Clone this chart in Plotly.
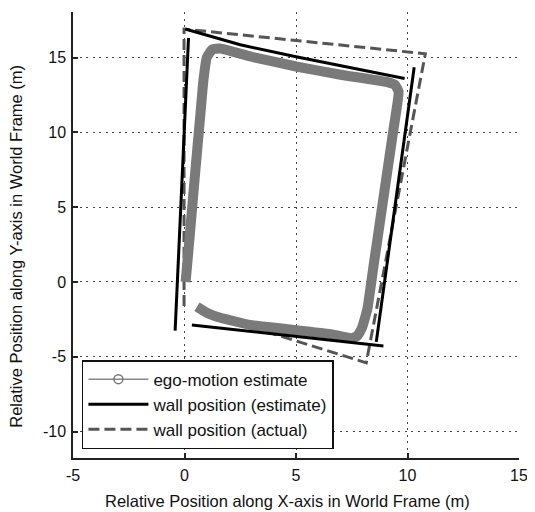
import plotly.graph_objects as go

# ego-motion estimate (trajectory)
ego_x = [0.05, 0.23, 0.46, 0.70, 0.85, 1.00, 1.25, 1.60, 3.0, 5.0, 7.0, 9.10, 9.45, 9.60, 9.35, 8.86, 8.47, 8.20, 7.95, 7.75, 7.50, 6.50, 5.00, 3.50, 2.94, 1.45, 1.00, 0.56]
ego_y = [0.0, 3.0, 7.0, 11.0, 13.5, 15.0, 15.55, 15.6, 15.05, 14.4, 13.85, 13.35, 13.15, 12.7, 10.0, 5.0, 1.0, -1.8, -3.1, -3.6, -3.75, -3.47, -3.22, -2.97, -2.87, -2.32, -2.05, -1.65]

# wall position (estimate): separate segments split by None
wall_est_x = [-0.42, 0.18, None, 0.03, 2.5, 5.0, 9.87, None, 10.30, 8.60, None, 0.33, 8.92]
wall_est_y = [-3.25, 16.30, None, 16.90, 15.85, 15.05, 13.60, None, 14.35, -4.00, None, -2.87, -4.27]

# wall position (actual)
wall_act_x = [-0.02, -0.02, 10.80, 8.15, 2.0]
wall_act_y = [-1.6, 16.9, 15.25, -5.40, -2.55]

x_ticks = [-5, 0, 5, 10, 15]
y_ticks = [-10, -5, 0, 5, 10, 15]

FONT = "Arial, 'Liberation Sans', sans-serif"

fig = go.Figure()
fig.add_trace(go.Scatter(x=wall_act_x, y=wall_act_y, mode="lines",
                         line=dict(color="#555555", width=3, dash="11px,5px"),
                         name="wall position (actual)", legendrank=3))
fig.add_trace(go.Scatter(x=ego_x, y=ego_y, mode="lines",
                         line=dict(color="#7a7a7a", width=10, shape="spline", smoothing=0.4),
                         showlegend=False, hoverinfo="skip"))
fig.add_trace(go.Scatter(x=wall_est_x, y=wall_est_y, mode="lines",
                         line=dict(color="#000000", width=3),
                         name="wall position (estimate)", legendrank=2))
fig.add_trace(go.Scatter(x=[None], y=[None], mode="lines+markers",
                         line=dict(color="#888888", width=1.5),
                         marker=dict(symbol="circle-open", size=9, color="#777777",
                                     line=dict(width=1.5, color="#777777")),
                         name="ego-motion estimate", legendrank=1))

axis_common = dict(showline=True, linecolor="#222222", linewidth=1.5,
                   ticks="inside", ticklen=5, tickcolor="#222222", tickwidth=1.5,
                   showgrid=True, gridcolor="#444444", gridwidth=1, griddash="2px,4.5px",
                   zeroline=False, mirror=False,
                   tickfont=dict(family=FONT, size=16, color="#111111"))

fig.update_xaxes(range=[-5, 15], tickvals=x_ticks, ticktext=[str(v) for v in x_ticks],
                 ticklabelstandoff=2, **axis_common)
fig.update_yaxes(range=[-11.76, 18.04], tickvals=y_ticks, ticktext=[str(v) for v in y_ticks],
                 ticklabelstandoff=2, **axis_common)

# page body has an 8px default margin: figure is sized/offset to compensate
fig.update_layout(
    width=527, height=504,
    margin=dict(l=65, r=16, t=4, b=54),
    paper_bgcolor="white", plot_bgcolor="white",
    font=dict(family=FONT, color="#111111"),
    showlegend=True,
    legend=dict(x=0.02, y=0.02, xanchor="left", yanchor="bottom",
                bgcolor="white", bordercolor="#111111", borderwidth=1.5,
                font=dict(family=FONT, size=17, color="#111111"),
                itemwidth=60, tracegroupgap=0),
    annotations=[
        dict(text="Relative Position along X-axis in World Frame (m)", xref="paper", yref="paper",
             x=0.481, y=-0.0964, xanchor="center", yanchor="middle", showarrow=False,
             font=dict(family=FONT, size=16.5, color="#111111")),
        dict(text="Relative Position along Y-axis in World Frame (m)", xref="paper", yref="paper",
             x=-0.1265, y=0.475, xanchor="center", yanchor="middle", showarrow=False,
             textangle=-90, font=dict(family=FONT, size=16.5, color="#111111")),
    ],
)

fig.write_html("out.html")
